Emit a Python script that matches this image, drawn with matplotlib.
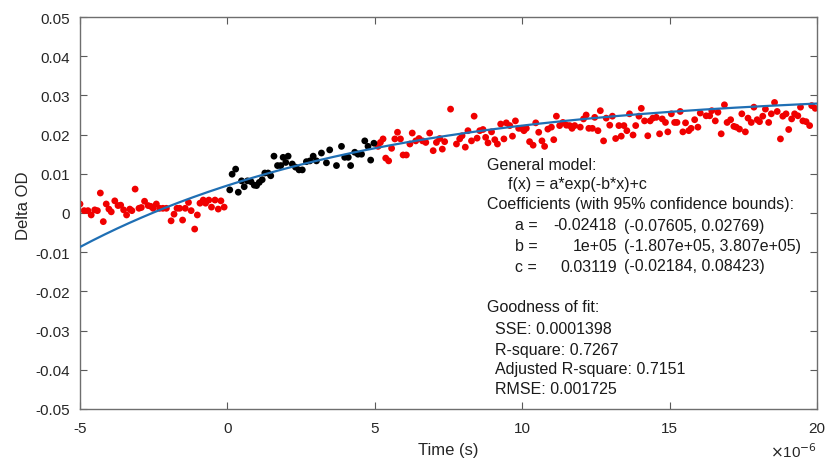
import numpy as np
import matplotlib
matplotlib.use('Agg')
import matplotlib.pyplot as plt
from matplotlib.ticker import FuncFormatter

plt.rcParams['font.family'] = ['Liberation Sans', 'DejaVu Sans']
plt.rcParams['axes.unicode_minus'] = False

# red points, time in microseconds
red_t = [-5.0, -4.86, -4.73, -4.62, -4.50, -4.41, -4.31, -4.21, -4.11, -4.02, -3.94, -3.82, -3.71, -3.62,
         -3.52, -3.42, -3.31, -3.24, -3.13, -3.0, -2.92, -2.81, -2.69, -2.60, -2.52, -2.41, -2.30, -2.19,
         -2.07, -1.91, -1.81, -1.71, -1.62, -1.52, -1.43, -1.32, -1.23, -1.11, -1.02, -0.93, -0.82, -0.74,
         -0.63, -0.54, -0.42, -0.31, -0.22, -0.11,
         5.11, 5.19, 5.28, 5.37, 5.47, 5.57, 5.68, 5.77, 5.87, 5.96, 6.07, 6.19, 6.27, 6.39, 6.50, 6.62,
         6.73, 6.86, 6.98, 7.09, 7.20, 7.29, 7.37, 7.57,
         7.77, 7.88, 7.96, 8.07, 8.16, 8.28, 8.37, 8.47, 8.56, 8.67, 8.76, 8.84, 8.96, 9.07, 9.16, 9.27,
         9.38, 9.46, 9.58, 9.67, 9.77, 9.88, 9.97, 10.06, 10.14, 10.25, 10.37, 10.46, 10.56, 10.67, 10.76,
         10.87, 10.99, 11.07, 11.16, 11.27, 11.38, 11.50, 11.61, 11.69, 11.78,
         11.97, 12.08, 12.17, 12.26, 12.38, 12.46, 12.57, 12.65, 12.76, 12.85, 12.97, 13.06, 13.17, 13.28,
         13.36, 13.45, 13.55, 13.64, 13.76, 13.85, 13.96, 14.04, 14.15, 14.26, 14.34, 14.43, 14.55, 14.66,
         14.75, 14.86, 14.94, 15.06, 15.17, 15.25, 15.36, 15.45, 15.54, 15.65, 15.73, 15.85, 15.96, 16.04,
         16.24, 16.36, 16.43, 16.55, 16.64, 16.75, 16.86, 16.95, 17.07, 17.18, 17.26, 17.37, 17.45, 17.57,
         17.66, 17.77, 17.86, 17.97, 18.05, 18.16, 18.25, 18.36, 18.45, 18.56, 18.65, 18.76, 18.84, 18.95,
         19.04, 19.14, 19.24, 19.35, 19.44, 19.52, 19.63, 19.75, 19.82, 19.94]
red_od = [0.0023, 0.0006, 0.0006, -0.0005, 0.0008, 0.0006, 0.0051, -0.0022, 0.0023, 0.001, 0.0003, 0.0031,
          0.0019, 0.002, 0.0008, -0.0005, 0.001, 0.0006, 0.0061, 0.0012, 0.0014, 0.003, 0.0019, 0.0017,
          0.0012, 0.0023, 0.0012, 0.0012, 0.0012, -0.002, -0.0003, 0.0012, 0.0012, -0.0018, 0.0012, 0.0027,
          0.0006, -0.0041, -0.0005, 0.0025, 0.0033, 0.0025, 0.0033, 0.0015, 0.0033, 0.001, 0.0031, 0.0015,
          0.017, 0.018, 0.0189, 0.014, 0.0133, 0.0165, 0.0189, 0.0206, 0.0189, 0.0148, 0.0148, 0.0176,
          0.0204, 0.0184, 0.019, 0.0184, 0.018, 0.0204, 0.0159, 0.018, 0.019, 0.0163, 0.0182, 0.0265,
          0.0176, 0.0189, 0.0197, 0.0168, 0.021, 0.0184, 0.0247, 0.0191, 0.021, 0.0213, 0.0193, 0.0179,
          0.0207, 0.0187, 0.0176, 0.0227, 0.0189, 0.023, 0.0223, 0.0196, 0.0235, 0.0216, 0.0216, 0.021,
          0.0216, 0.0182, 0.0173, 0.023, 0.0206, 0.0184, 0.017, 0.0214, 0.0219, 0.0187, 0.0247, 0.0223,
          0.0231, 0.0224, 0.0223, 0.0216, 0.0223,
          0.0219, 0.024, 0.025, 0.0216, 0.0216, 0.0244, 0.021, 0.0261, 0.0184, 0.0242, 0.0224, 0.0247,
          0.019, 0.0223, 0.0196, 0.0223, 0.021, 0.0253, 0.0199, 0.0223, 0.0247, 0.0267, 0.0235, 0.0197,
          0.0235, 0.0242, 0.0244, 0.0202, 0.024, 0.0231, 0.0207, 0.0253, 0.0231, 0.0231, 0.0259, 0.0207,
          0.023, 0.021, 0.0216, 0.0238, 0.0219, 0.0255,
          0.0248, 0.0248, 0.0261, 0.0235, 0.0257, 0.0202, 0.0276, 0.0231, 0.0238, 0.0221, 0.0219, 0.0214,
          0.0253, 0.0207, 0.0242, 0.0231, 0.027, 0.0238, 0.0233, 0.0247, 0.0265, 0.0231, 0.0253, 0.0282,
          0.0259, 0.0189, 0.0247, 0.0253, 0.0213, 0.024, 0.0253, 0.0248, 0.027, 0.0235, 0.0233, 0.0223,
          0.0274, 0.0267]

# black points (fitted range)
blk_t = [0.08, 0.16, 0.28, 0.37, 0.48, 0.57, 0.68, 0.80, 0.91, 0.99, 1.08, 1.18, 1.27, 1.38, 1.47, 1.58,
         1.70, 1.81, 1.89, 1.98, 2.06, 2.20, 2.31, 2.43, 2.54, 2.68, 2.80, 2.91, 3.02, 3.19, 3.36, 3.47,
         3.70, 3.87, 3.98, 4.10, 4.18, 4.32, 4.43, 4.55, 4.66, 4.77, 4.86, 4.97]
blk_od = [0.0059, 0.0099, 0.0112, 0.0053, 0.0082, 0.0067, 0.0082, 0.008, 0.0071, 0.007, 0.0078, 0.0085,
          0.0102, 0.0102, 0.0095, 0.0145, 0.0121, 0.0121, 0.0142, 0.0129, 0.0145, 0.0125, 0.0117, 0.011,
          0.011, 0.0131, 0.0133, 0.0145, 0.0133, 0.0153, 0.0128, 0.0161, 0.0121, 0.017, 0.0142, 0.0142,
          0.0121, 0.0155, 0.015, 0.015, 0.0184, 0.017, 0.0135, 0.0178]

# fit coefficients shown in the annotation
a = -0.02418
b = 1e5
c = 0.03119

fig = plt.figure(figsize=(8.27, 4.6), dpi=100)
ax = fig.add_axes([80/827, 1-410/460, 737/827, 392/460])

ax.scatter(np.array(red_t)*1e-6, red_od, s=24, c='#f00000', edgecolors='none', zorder=2)
ax.scatter(np.array(blk_t)*1e-6, blk_od, s=24, c='black', edgecolors='none', zorder=2)
tt = np.linspace(-5e-6, 20e-6, 300)
ax.plot(tt, a*np.exp(-b*tt)+c, color='#1f6fb4', lw=1.6, zorder=3)

ax.set_xlim(-5e-6, 20e-6)
ax.set_ylim(-0.05, 0.05)
ax.set_xticks(np.arange(-5, 21, 5)*1e-6)
ax.set_yticks(np.arange(-0.05, 0.051, 0.01))
ax.xaxis.set_major_formatter(FuncFormatter(lambda v, p: '%g' % round(v*1e6, 6)))
ax.yaxis.set_major_formatter(FuncFormatter(lambda v, p: '%g' % round(v, 6)))
ax.tick_params(direction='in', length=5, width=0.8, top=True, right=True,
               labelsize=11, colors='#5a5a5a', labelcolor='#262626')
ax.tick_params(axis='x', pad=8.5)
ax.tick_params(axis='y', pad=7)
for s in ax.spines.values():
    s.set_color('#6e6e6e')
    s.set_linewidth(1.0)
ax.set_xlabel('Time (s)', fontsize=12, color='#262626')
ax.set_ylabel('Delta OD', fontsize=12, color='#262626', va='center')
ax.xaxis.set_label_coords(0.5, -0.084)
ax.yaxis.set_label_coords(-0.077, 0.52)
fig.text(817/827, 1-452/460, r'$\times$10$^{-6}$', ha='right', va='center', fontsize=11, color='#262626')

def put(x, y, s, ha='left'):
    fig.text(x/827, 1-y/460, s, ha=ha, va='center', fontsize=11.5, color='#1a1a1a')

put(487, 165, 'General model:')
put(508, 185, 'f(x) = a*exp(-b*x)+c')
put(487, 205, 'Coefficients (with 95% confidence bounds):')
put(515, 226, 'a =')
put(617, 226, '-0.02418', ha='right')
put(624, 226, '(-0.07605, 0.02769)')
put(515, 247, 'b =')
put(617, 247, '1e+05', ha='right')
put(624, 247, '(-1.807e+05, 3.807e+05)')
put(515, 267, 'c =')
put(617, 267, '0.03119', ha='right')
put(624, 267, '(-0.02184, 0.08423)')
put(487, 308, 'Goodness of fit:')
put(495, 330, 'SSE: 0.0001398')
put(495, 350, 'R-square: 0.7267')
put(495, 370, 'Adjusted R-square: 0.7151')
put(495, 390, 'RMSE: 0.001725')

fig.savefig('out.png', dpi=100)
